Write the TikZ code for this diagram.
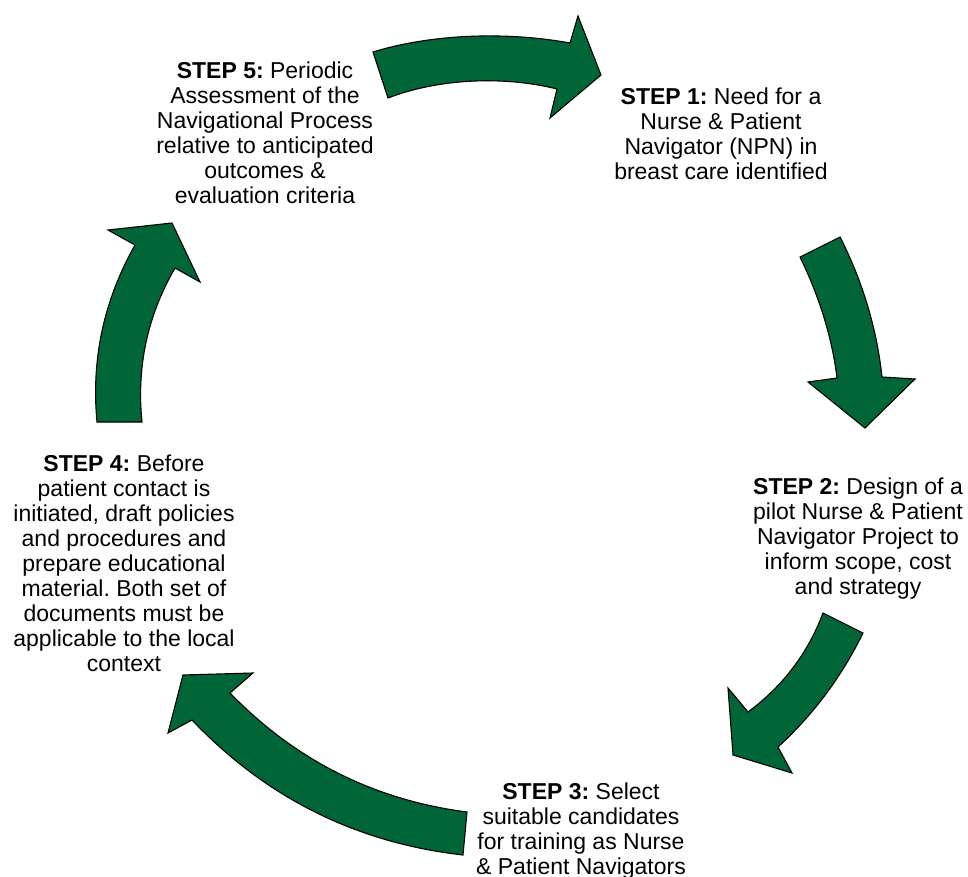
\documentclass[tikz,border=0pt]{standalone}
\usepackage{fontspec}
\setmainfont{Liberation Sans}
\frenchspacing
\definecolor{cyclegreen}{RGB}{0,102,55}
\tikzset{
  blockarrow/.style={fill=cyclegreen, draw=black, line width=1.1pt, line join=miter},
  steptext/.style={align=center, inner sep=0pt, anchor=north, text=black,
    font=\fontsize{23}{25}\selectfont}
}
\begin{document}
\begin{tikzpicture}[x=1pt,y=-1pt]
\useasboundingbox (0,0) rectangle (968,877);
% Arrow 1 (top, pointing right)
\draw[blockarrow] (373,52) .. controls (435,33) and (510,32) .. (570,43)
  -- (578,16) -- (601,75) -- (550,118) -- (557,89)
  .. controls (505,76) and (440,78) .. (388,98) -- cycle;
% Arrow 2 (right, pointing down)
\draw[blockarrow] (800,257) -- (840,237) .. controls (863,282) and (877,330) .. (882,377)
  -- (915,379) -- (865,428) -- (808,382) -- (837,378)
  .. controls (832,337) and (819,296) .. (800,257) -- cycle;
% Arrow 3 (lower right, pointing down-left)
\draw[blockarrow] (823,613) -- (863,633) .. controls (842,676) and (814,714) .. (778,747)
  -- (792,773) -- (733,755) -- (728,688) -- (748,712)
  .. controls (783,686) and (808,653) .. (823,613) -- cycle;
% Arrow 4 (bottom, pointing up-left)
\draw[blockarrow] (467,812) .. controls (374,800) and (295,760) .. (230,693)
  -- (253,673) -- (183,675) -- (168,733) -- (192,720)
  .. controls (266,798) and (357,843) .. (463,855) -- cycle;
% Arrow 5 (left, pointing up)
\draw[blockarrow] (97,422) .. controls (91,359) and (104,300) .. (135,245)
  -- (108,230) -- (172,223) -- (200,282) -- (175,268)
  .. controls (147.4,315.7) and (136.4,367) .. (142,422) -- cycle;
% Texts
\node[steptext] (s5) at (265,62) {\textbf{STEP 5:} Periodic\\Assessment of the\\Navigational Process\\relative to anticipated\\outcomes \&\\evaluation criteria};
\node[steptext] (s1) at (721,88) {\textbf{STEP 1:} Need for a\\Nurse \& Patient\\Navigator (NPN) in\\breast care identified};
\node[steptext] (s2) at (858,478) {\textbf{STEP 2:} Design of a\\pilot Nurse \& Patient\\Navigator Project to\\inform scope, cost\\and strategy};
\node[steptext] (s3) at (581,783) {\textbf{STEP 3:} Select\\suitable candidates\\for training as Nurse\\\& Patient Navigators};
\node[steptext] (s4) at (124,455) {\textbf{STEP 4:} Before\\patient contact is\\initiated, draft policies\\and procedures and\\prepare educational\\material. Both set of\\documents must be\\applicable to the local\\context};
\end{tikzpicture}
\end{document}
